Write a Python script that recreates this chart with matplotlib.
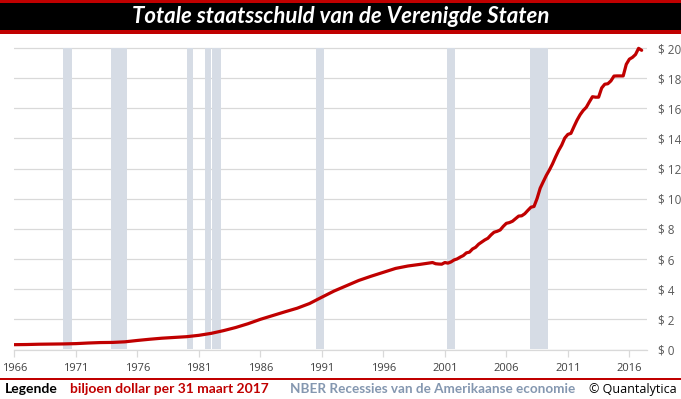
import matplotlib
matplotlib.use("Agg")
import matplotlib.pyplot as plt
from matplotlib.patches import Rectangle
from matplotlib.ticker import FuncFormatter

# ---- data ----
years_annual = [1966, 1967, 1968, 1969, 1970, 1971, 1972, 1973, 1974, 1975, 1976, 1977,
                1978, 1979, 1980, 1981, 1982, 1983, 1984, 1985, 1986, 1987, 1988, 1989,
                1990, 1991, 1992, 1993, 1994, 1995, 1996, 1997, 1998, 1999]
debt_annual = [0.32, 0.33, 0.35, 0.36, 0.37, 0.39, 0.43, 0.46, 0.47, 0.51, 0.60, 0.68,
               0.75, 0.80, 0.85, 0.94, 1.07, 1.25, 1.46, 1.71, 2.00, 2.25, 2.50, 2.74,
               3.05, 3.47, 3.88, 4.23, 4.58, 4.86, 5.12, 5.38, 5.54, 5.65]
years_quarterly = [2000 + q * 0.25 for q in range(69)]
debt_quarterly = [5.77, 5.69, 5.67, 5.66, 5.77, 5.73, 5.81, 5.94, 6.01, 6.13, 6.23, 6.41,
                  6.46, 6.67, 6.78, 6.99, 7.13, 7.27, 7.38, 7.60, 7.78, 7.84, 7.93, 8.17,
                  8.37, 8.42, 8.51, 8.68, 8.85, 8.87, 9.01, 9.23, 9.44, 9.49, 10.02, 10.70,
                  11.13, 11.55, 11.91, 12.31, 12.77, 13.20, 13.56, 14.03, 14.27, 14.34, 14.79, 15.22,
                  15.58, 15.86, 16.07, 16.43, 16.77, 16.74, 16.74, 17.35, 17.60, 17.63, 17.82, 18.14,
                  18.15, 18.15, 18.15, 18.92, 19.26, 19.38, 19.57, 19.98, 19.85]
recession_start = [1969.92, 1973.83, 1980.0, 1981.5, 1982.08, 1990.5, 2001.17, 2007.92]
recession_end = [1970.67, 1975.17, 1980.5, 1981.97, 1982.83, 1991.17, 2001.83, 2009.42]
recession_height = 20
x_ticks = [1966, 1971, 1976, 1981, 1986, 1991, 1996, 2001, 2006, 2011, 2016]
y_ticks = [0, 2, 4, 6, 8, 10, 12, 14, 16, 18, 20]

title = "Totale staatsschuld van de Verenigde Staten"
legend_label = "Legende"
series_label = "biljoen dollar per 31 maart 2017"
recession_label = "NBER Recessies van de Amerikaanse economie"
credit = "© Quantalytica"

W, H = 681, 399
RED = "#C00000"
fig = plt.figure(figsize=(W / 100, H / 100), dpi=100)
fig.patch.set_facecolor("white")

def fx(px):
    return px / W

def fy(py):
    return 1 - py / H

# title bar
fig.patches.append(Rectangle((0, fy(34)), 1, fy(0) - fy(34), transform=fig.transFigure,
                             facecolor=RED, edgecolor="none", zorder=0))
fig.patches.append(Rectangle((0, fy(30)), 1, fy(3) - fy(30), transform=fig.transFigure,
                             facecolor="black", edgecolor="none", zorder=1))
fig.text(0.5, fy(16.5), title, color="white", fontsize=16, fontweight="bold",
         fontstyle="italic", family="Lato", ha="center", va="center")

# bottom red line
fig.patches.append(Rectangle((0, fy(380)), 1, fy(378) - fy(380), transform=fig.transFigure,
                             facecolor=RED, edgecolor="none"))

# axes
ax_left, ax_right = 14.3, 646.7
ax_top, ax_bottom = 40.5, 349.5
ax = fig.add_axes([fx(ax_left), fy(ax_bottom), fx(ax_right - ax_left), fy(ax_top) - fy(ax_bottom)])
ax.set_xlim(1966.0, 2017.41)
ax.set_ylim(0, 20.5)

for s, e in zip(recession_start, recession_end):
    ax.fill_between([s, e], 0, recession_height, color="#D6DCE5", lw=0, zorder=1)

ax.plot(years_annual + years_quarterly, debt_annual + debt_quarterly, color=RED, lw=2.3,
        zorder=3, solid_joinstyle="round", solid_capstyle="round")

ax.set_yticks(y_ticks)
ax.set_xticks(x_ticks)
ax.yaxis.grid(True, color="#D9D9D9", lw=0.9, zorder=0)
ax.xaxis.grid(False)
ax.set_axisbelow(True)
for sp in ["top", "right", "left"]:
    ax.spines[sp].set_visible(False)
ax.spines["bottom"].set_color("#D9D9D9")
ax.spines["bottom"].set_linewidth(0.9)
ax.yaxis.tick_right()
ax.tick_params(axis="y", length=0, pad=8, labelsize=8.5, labelcolor="#595959")
ax.tick_params(axis="x", length=5, width=0.9, color="#D9D9D9", pad=5, labelsize=8,
               labelcolor="#404040")
ax.yaxis.set_major_formatter(FuncFormatter(lambda v, p: f"$ {int(v)}"))
for lab in ax.get_xticklabels() + ax.get_yticklabels():
    lab.set_family("Open Sans")

# legend row
ly = fy(389)
fig.text(fx(5), ly, legend_label, color="black", fontsize=10, fontweight="bold",
         family="Lato", va="center", ha="left")
fig.text(fx(70), ly, series_label, color=RED, fontsize=10, fontweight="bold",
         family="Lato", va="center", ha="left")
fig.text(fx(290), ly, recession_label, color="#8497B0", fontsize=9.75, fontweight="bold",
         family="Lato", va="center", ha="left")
fig.text(fx(677), ly, credit, color="black", fontsize=9, family="Open Sans",
         va="center", ha="right")

fig.savefig("out.png", dpi=100)
